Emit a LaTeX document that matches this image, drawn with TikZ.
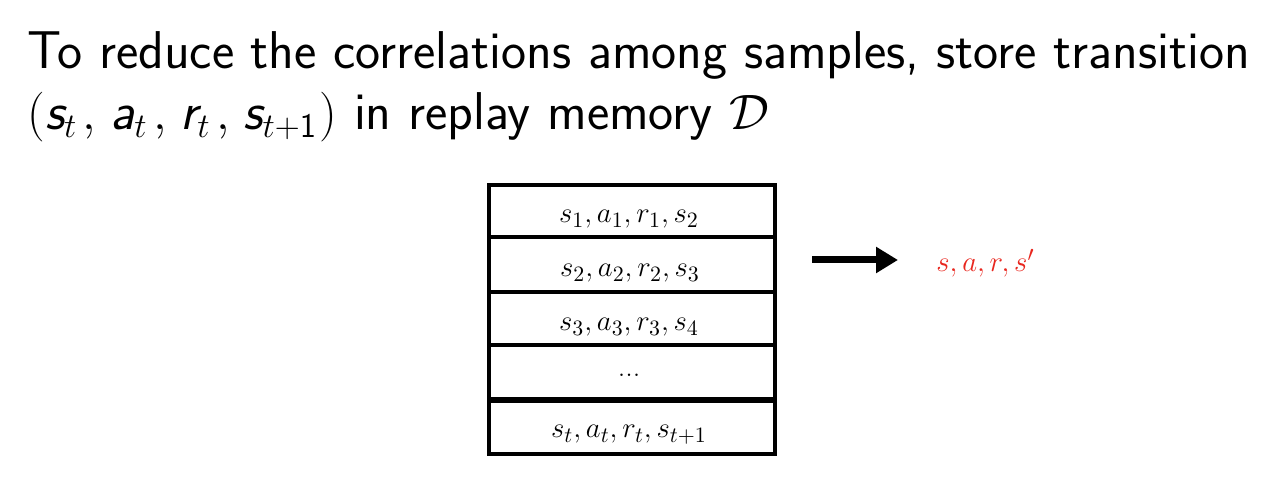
\documentclass[tikz,border=0pt]{standalone}
\usepackage{amsmath}
\usetikzlibrary{arrows.meta}
\definecolor{outred}{RGB}{232,38,30}
\newcommand{\sv}[1]{\text{\sffamily\itshape #1}}
\newcommand{\cm}{\mkern2mu,\mkern2mu}
\tikzset{
  title/.style={anchor=base west,inner sep=0pt,font=\fontsize{26.6}{30}\selectfont\sffamily},
  cell/.style={anchor=base,inner sep=0pt,font=\fontsize{15}{17}\selectfont},
  rowbox/.style={draw=black,line width=1.9pt,minimum width=143pt,inner sep=0pt,anchor=north west},
  arr/.style={line width=3.5pt,-{Triangle[length=11pt,width=12.5pt]}}
}
\begin{document}
\begin{tikzpicture}[x=0.5pt,y=-0.5pt]
\useasboundingbox (0,0) rectangle (1276,480);
\node[title] (t1) at (27,69) {To reduce the correlations among samples, store transition};
\node[title] (t2) at (27,130) {$(\sv{s}_{t}\cm\sv{a}_{t}\cm\sv{r}_{t}\cm\sv{s}_{t+\mathsf{1}}\mkern1mu)$ in replay memory $\mathcal{D}$};
% rows
\node[rowbox,minimum height=26pt] (r1) at (487,183) {};
\node[rowbox,minimum height=27.5pt] (r2) at (487,235) {};
\node[rowbox,minimum height=26.5pt] (r3) at (487,290) {};
\node[rowbox,minimum height=27pt] (r4) at (487,343) {};
\node[rowbox,minimum height=27.5pt] (r5) at (487,397) {};
\draw[line width=2.6pt] (r4.south west) -- (r4.south east);
\node[cell] (c1) at (629,223) {$s_1,a_1,r_1,s_2$};
\node[cell] (c2) at (630,277) {$s_2,a_2,r_2,s_3$};
\node[cell] (c3) at (629,331) {$s_3,a_3,r_3,s_4$};
\node[cell] (c4) at (629,377) {...};
\node[cell] (c5) at (629,438) {$s_t,a_t,r_t,s_{t+1}$};
% arrow and output
\coordinate (as) at (812,260);
\coordinate (ae) at (898,260);
\draw[arr] (as) -- (ae);
\node[cell,anchor=base west,text=outred] (out) at (936,272) {$s,a,r,s'$};
\end{tikzpicture}
\end{document}
